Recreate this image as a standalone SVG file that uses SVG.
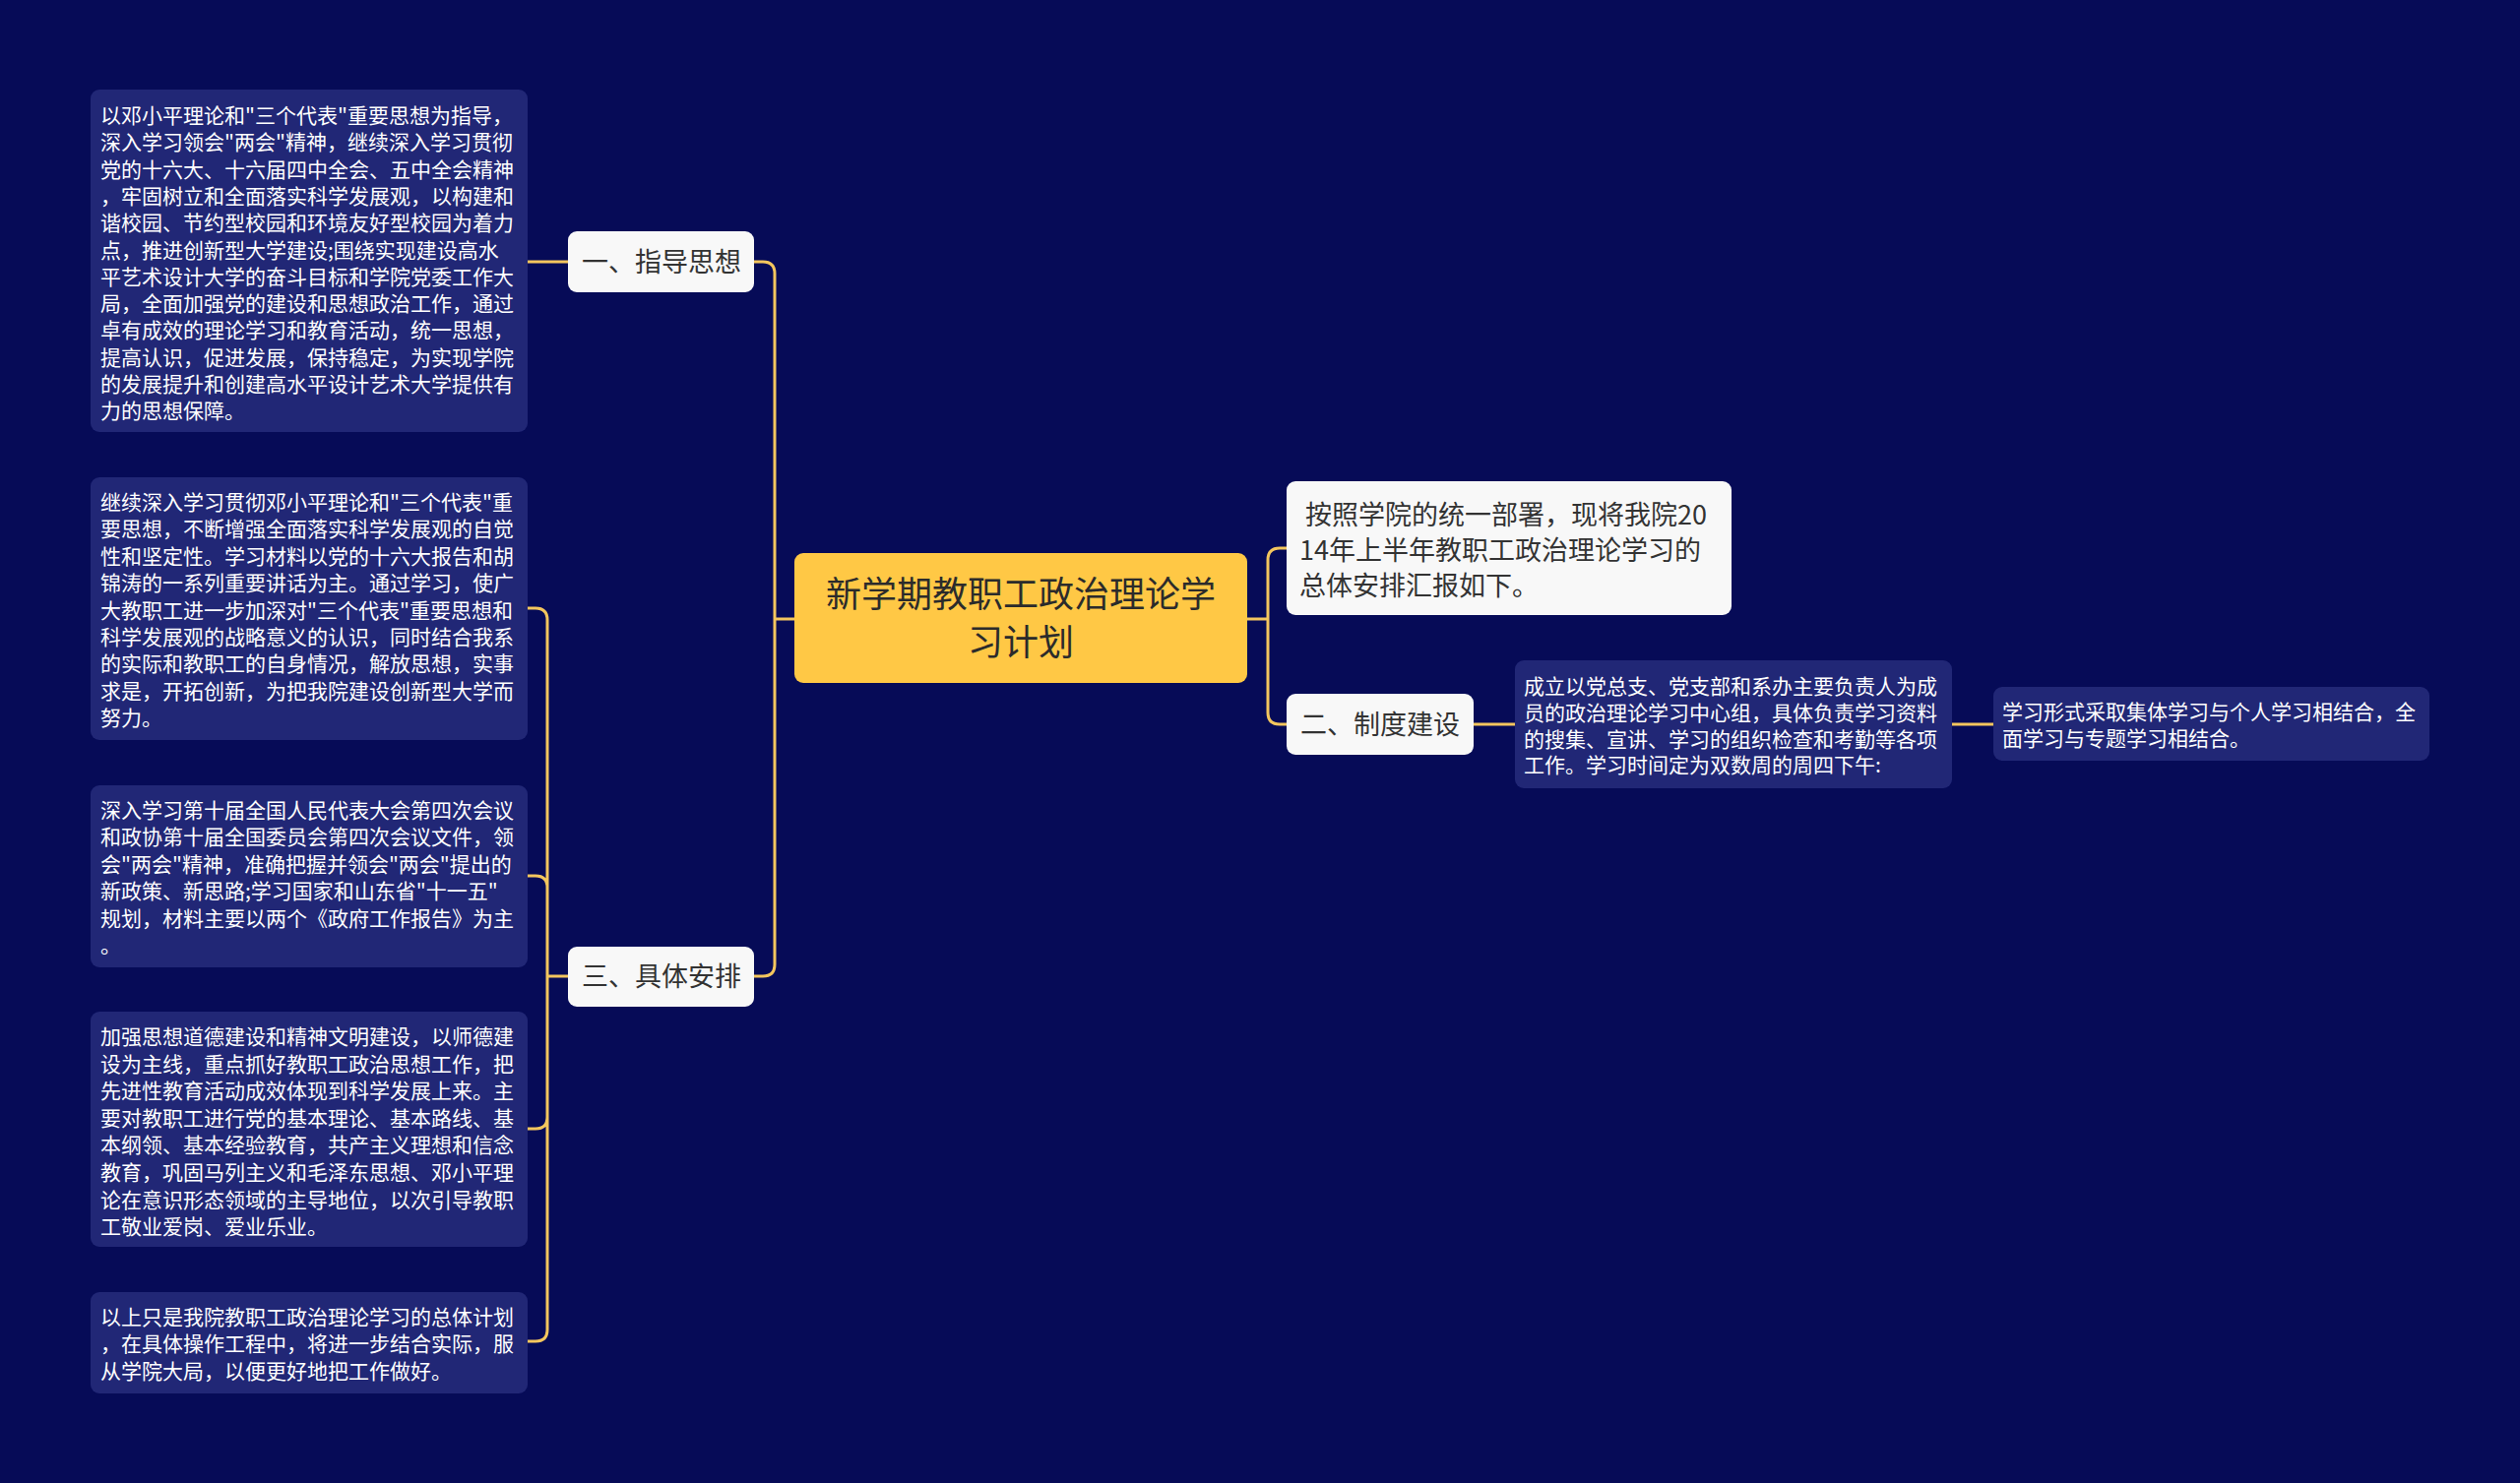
<svg xmlns="http://www.w3.org/2000/svg" width="2560" height="1507" viewBox="0 0 2560 1507">
<style>
.bg{fill:#060B57}
.box{fill:#212776}
.node{fill:#F8F8F8}
.root{fill:#FFC845}
.bt{font-family:"Noto Sans CJK SC","Noto Sans",sans-serif;font-size:21px;fill:#FFFFFF}
.nt{font-family:"Noto Sans CJK SC","Noto Sans",sans-serif;font-size:27px;fill:#333333}
.rt{font-family:"Noto Sans CJK SC","Noto Sans",sans-serif;font-size:36px;fill:#2B2B2B;text-anchor:middle}
.ln{fill:none;stroke:#F3C65E;stroke-width:3;stroke-linecap:round}
</style>
<rect class="bg" x="0" y="0" width="2560" height="1507"/>
<g id="connectors">
<path class="ln" d="M807 629 H787 M787 629 V278 Q787 266 775 266 H766 M787 629 V980 Q787 992 775 992 H766"/>
<path class="ln" d="M1267 629 H1288 M1288 629 V569 Q1288 557 1300 557 H1307 M1288 629 V724 Q1288 736 1300 736 H1307"/>
<path class="ln" d="M1497 736 H1539 M1983 736 H2025"/>
<path class="ln" d="M577 266 H536"/>
<path class="ln" d="M577 992 H556 M556 992 V630 Q556 618 544 618 H536 M556 992 V902 Q556 890 544 890 H536 M556 992 V1135 Q556 1147 544 1147 H536 M556 992 V1351 Q556 1363 544 1363 H536"/>
</g>
<g id="root">
<rect class="root" x="807" y="562" width="460" height="132" rx="9"/>
<text class="rt" x="1037" y="617">新学期教职工政治理论学</text>
<text class="rt" x="1037" y="666">习计划</text>
</g>
<g id="node-zhidao">
<rect class="node" x="577" y="235" width="189" height="62" rx="9"/>
<text class="nt" x="591" y="276">一、指导思想</text>
</g>
<g id="node-anpai">
<rect class="node" x="577" y="962" width="189" height="61" rx="9"/>
<text class="nt" x="591" y="1002">三、具体安排</text>
</g>
<g id="node-intro">
<rect class="node" x="1307" y="489" width="452" height="136" rx="9"/>
<text class="nt" xml:space="preserve" x="1320" y="533"> 按照学院的统一部署，现将我院20</text>
<text class="nt" x="1320" y="569">14年上半年教职工政治理论学习的</text>
<text class="nt" x="1320" y="605">总体安排汇报如下。</text>
</g>
<g id="node-zhidu">
<rect class="node" x="1307" y="705" width="190" height="62" rx="9"/>
<text class="nt" x="1321" y="746">二、制度建设</text>
</g>
<g id="box-1">
<rect class="box" x="92" y="91" width="444" height="348" rx="9"/>
<text class="bt" x="102" y="125">以邓小平理论和"三个代表"重要思想为指导，<tspan x="102" dy="27.3">深入学习领会"两会"精神，继续深入学习贯彻</tspan><tspan x="102" dy="27.3">党的十六大、十六届四中全会、五中全会精神</tspan><tspan x="102" dy="27.3">，牢固树立和全面落实科学发展观，以构建和</tspan><tspan x="102" dy="27.3">谐校园、节约型校园和环境友好型校园为着力</tspan><tspan x="102" dy="27.3">点，推进创新型大学建设;围绕实现建设高水</tspan><tspan x="102" dy="27.3">平艺术设计大学的奋斗目标和学院党委工作大</tspan><tspan x="102" dy="27.3">局，全面加强党的建设和思想政治工作，通过</tspan><tspan x="102" dy="27.3">卓有成效的理论学习和教育活动，统一思想，</tspan><tspan x="102" dy="27.3">提高认识，促进发展，保持稳定，为实现学院</tspan><tspan x="102" dy="27.3">的发展提升和创建高水平设计艺术大学提供有</tspan><tspan x="102" dy="27.3">力的思想保障。</tspan></text>
</g>
<g id="box-2">
<rect class="box" x="92" y="485" width="444" height="267" rx="9"/>
<text class="bt" x="102" y="518">继续深入学习贯彻邓小平理论和"三个代表"重<tspan x="102" dy="27.4">要思想，不断增强全面落实科学发展观的自觉</tspan><tspan x="102" dy="27.4">性和坚定性。学习材料以党的十六大报告和胡</tspan><tspan x="102" dy="27.4">锦涛的一系列重要讲话为主。通过学习，使广</tspan><tspan x="102" dy="27.4">大教职工进一步加深对"三个代表"重要思想和</tspan><tspan x="102" dy="27.4">科学发展观的战略意义的认识，同时结合我系</tspan><tspan x="102" dy="27.4">的实际和教职工的自身情况，解放思想，实事</tspan><tspan x="102" dy="27.4">求是，开拓创新，为把我院建设创新型大学而</tspan><tspan x="102" dy="27.4">努力。</tspan></text>
</g>
<g id="box-3">
<rect class="box" x="92" y="798" width="444" height="185" rx="9"/>
<text class="bt" x="102" y="831">深入学习第十届全国人民代表大会第四次会议<tspan x="102" dy="27.4">和政协第十届全国委员会第四次会议文件，领</tspan><tspan x="102" dy="27.4">会"两会"精神，准确把握并领会"两会"提出的</tspan><tspan x="102" dy="27.4">新政策、新思路;学习国家和山东省"十一五"</tspan><tspan x="102" dy="27.4">规划，材料主要以两个《政府工作报告》为主</tspan><tspan x="102" dy="27.4">。</tspan></text>
</g>
<g id="box-4">
<rect class="box" x="92" y="1028" width="444" height="239" rx="9"/>
<text class="bt" x="102" y="1061">加强思想道德建设和精神文明建设，以师德建<tspan x="102" dy="27.6">设为主线，重点抓好教职工政治思想工作，把</tspan><tspan x="102" dy="27.6">先进性教育活动成效体现到科学发展上来。主</tspan><tspan x="102" dy="27.6">要对教职工进行党的基本理论、基本路线、基</tspan><tspan x="102" dy="27.6">本纲领、基本经验教育，共产主义理想和信念</tspan><tspan x="102" dy="27.6">教育，巩固马列主义和毛泽东思想、邓小平理</tspan><tspan x="102" dy="27.6">论在意识形态领域的主导地位，以次引导教职</tspan><tspan x="102" dy="27.6">工敬业爱岗、爱业乐业。</tspan></text>
</g>
<g id="box-5">
<rect class="box" x="92" y="1313" width="444" height="103" rx="9"/>
<text class="bt" x="102" y="1346">以上只是我院教职工政治理论学习的总体计划<tspan x="102" dy="27.3">，在具体操作工程中，将进一步结合实际，服</tspan><tspan x="102" dy="27.3">从学院大局，以便更好地把工作做好。</tspan></text>
</g>
<g id="box-zhongxinzu">
<rect class="box" x="1539" y="671" width="444" height="130" rx="9"/>
<text class="bt" x="1548" y="705">成立以党总支、党支部和系办主要负责人为成<tspan x="1548" dy="26.8">员的政治理论学习中心组，具体负责学习资料</tspan><tspan x="1548" dy="26.8">的搜集、宣讲、学习的组织检查和考勤等各项</tspan><tspan x="1548" dy="26.8">工作。学习时间定为双数周的周四下午:</tspan></text>
</g>
<g id="box-xingshi">
<rect class="box" x="2025" y="698" width="443" height="75" rx="9"/>
<text class="bt" x="2034" y="731">学习形式采取集体学习与个人学习相结合，全<tspan x="2034" dy="27">面学习与专题学习相结合。</tspan></text>
</g>
</svg>
